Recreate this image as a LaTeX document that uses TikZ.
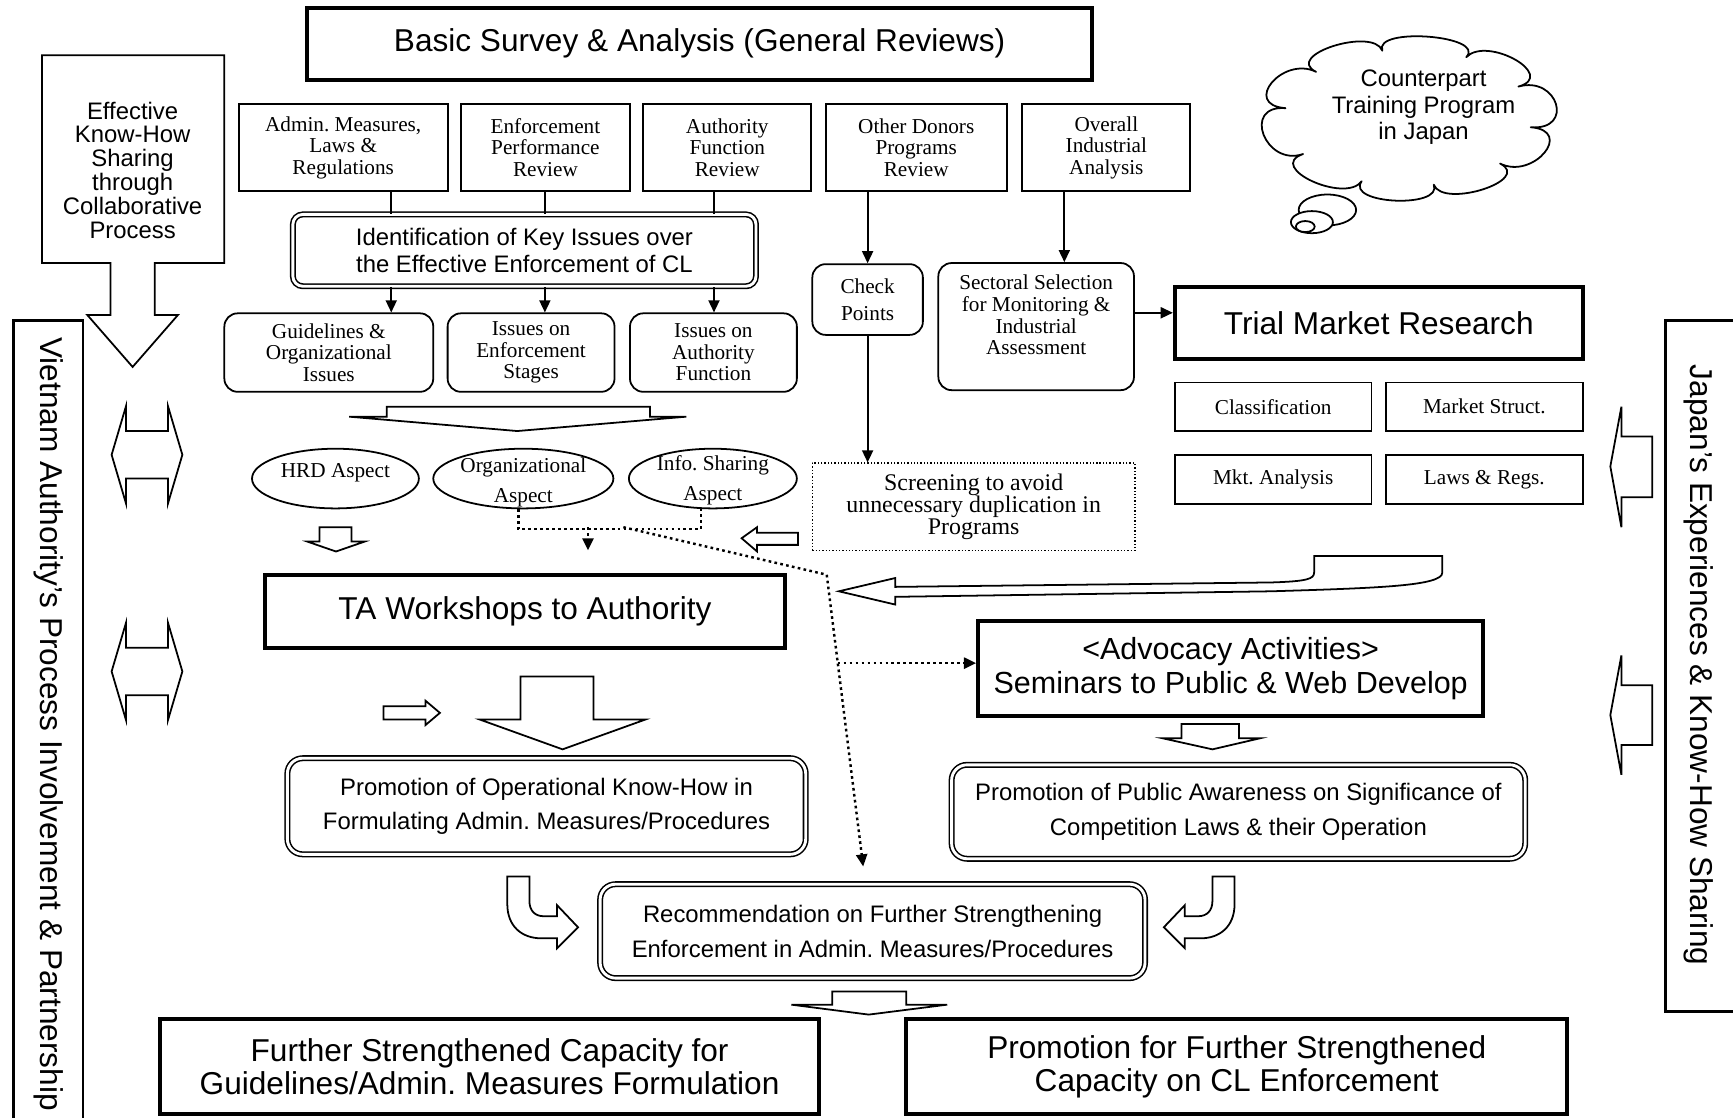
\documentclass[tikz,border=0pt]{standalone}
\usepackage{fontspec}
\setmainfont{Liberation Serif}
\setsansfont{Liberation Sans}
\frenchspacing
\usetikzlibrary{arrows.meta, positioning, shapes.geometric, calc}

\newcommand{\fbig}{\sffamily\fontsize{28.6}{30}\selectfont}
\newcommand{\fadv}{\sffamily\fontsize{27.6}{30}\selectfont}
\newcommand{\fmid}{\sffamily\fontsize{21.6}{24}\selectfont}
\newcommand{\fmidb}{\sffamily\fontsize{21.6}{31.5}\selectfont}
\newcommand{\fser}{\rmfamily\fontsize{19.2}{19.5}\selectfont}

% down-pointing block arrow: shaft l/r, top, wing l/r, wing y, tip x/y
\newcommand{\blkdown}[8]{%
  \draw[blk] (#1,#3) -- (#2,#3) -- (#2,#6) -- (#5,#6) -- (#7,#8) -- (#4,#6) -- (#1,#6) -- cycle;}
% left-pointing block arrow: tip x/y, head back, head top/bottom, shaft end, shaft top/bottom
\newcommand{\blkleft}[8]{%
  \draw[blk] (#1,#2) -- (#3,#4) -- (#3,#7) -- (#6,#7) -- (#6,#8) -- (#3,#8) -- (#3,#5) -- cycle;}

\begin{document}
\begin{tikzpicture}[x=1pt, y=-1pt,
  thinbox/.style={draw, line width=1.6pt, inner sep=0pt, align=center, font=\fser},
  heavybox/.style={draw, line width=3.6pt, inner sep=0pt, align=center, font=\fbig},
  roundbox/.style={thinbox, rounded corners=12pt},
  dblbox/.style={draw, double, double distance=2.6pt, line width=1.4pt, rounded corners=14pt,
                 inner sep=0pt, align=center, font=\fmidb},
  dotbox/.style={thinbox, line width=1.2pt, dash pattern=on 1.2pt off 1.8pt},
  aspect/.style={draw, ellipse, line width=1.6pt, inner sep=0pt},
  blk/.style={draw, fill=white, line width=1.6pt, line join=miter},
  link/.style={line width=1.6pt},
  linkhead/.style={-{Triangle[length=11pt, width=10pt]}},
  dotlink/.style={line width=2.2pt, dash pattern=on 2.4pt off 3pt}]

\useasboundingbox (0,0) rectangle (1568,1011);
\clip (0,0) rectangle (1568,1011);

% side bands
\node [draw, line width=2.4pt, minimum width=63pt, minimum height=780pt] (vietbox) at (43.5,680) {};
\node [rotate=-90, anchor=west, inner sep=0pt, font=\fbig] (viettxt) at (44,305)
  {Vietnam Authority’s Process Involvement \& Partnership};
\node [draw, line width=2.4pt, minimum width=113pt, minimum height=625pt] (japanbox) at (1563.5,602.5) {};
\node [rotate=-90, anchor=west, inner sep=0pt, font=\fbig] (japantxt) at (1537,330)
  {Japan’s Experiences \& Know-How Sharing};

% collaborative process arrow
\draw [blk] (38,50) -- (203,50) -- (203,238) -- (140,238) -- (140,285) -- (161,285)
  -- (120,332) -- (79,285) -- (100,285) -- (100,238) -- (38,238) -- cycle;
\node [align=center, font=\sffamily\fontsize{21.6}{21.6}\selectfont] (effective) at (120,154)
  {Effective\\Know-How\\Sharing\\through\\Collaborative\\Process};

\foreach \yc in {411.5,607.5}
  \draw [blk] (114,\yc-21.5) -- (114,\yc-44) -- (101,\yc) -- (114,\yc+44) -- (114,\yc+21.5)
    -- (152,\yc+21.5) -- (152,\yc+44) -- (165,\yc) -- (152,\yc-44) -- (152,\yc-21.5) -- cycle;

% general reviews
\node [heavybox, minimum width=710pt, minimum height=65pt] (survey) at (633,39.5)
  {Basic Survey \& Analysis (General Reviews)};

\node [thinbox, minimum width=189pt, minimum height=79pt] (admin)    at (310.5,133.5) {Admin. Measures,\\Laws \&\\Regulations};
\node [thinbox, minimum width=153pt, minimum height=79pt] (enfrev)   at (493.5,133.5) {Enforcement\\Performance\\Review};
\node [thinbox, minimum width=152pt, minimum height=79pt] (authrev)  at (658,133.5)   {Authority\\Function\\Review};
\node [thinbox, minimum width=164pt, minimum height=79pt] (donors)   at (829,133.5)   {Other Donors\\Programs\\Review};
\node [thinbox, minimum width=152pt, minimum height=79pt] (industry) at (1001,133.5)  {Overall\\Industrial\\Analysis};

\node [dblbox, font=\fmid, rounded corners=9pt, minimum width=419pt, minimum height=65pt] (keyissues)
  at (474.5,226.5) {Identification of Key Issues over\\the Effective Enforcement of CL};

\node [roundbox, minimum width=189pt, minimum height=71pt] (guide)  at (297.5,319) {Guidelines \&\\Organizational\\Issues};
\node [roundbox, minimum width=151pt, minimum height=71pt] (stages) at (480.5,319) {Issues on\\Enforcement\\Stages};
\node [roundbox, minimum width=151pt, minimum height=71pt] (authfn) at (645.5,319) {Issues on\\Authority\\Function};

\coordinate (colA) at (354,0);
\coordinate (colB) at (493,0);
\coordinate (colC) at (646,0);
\coordinate (colD) at (963,0);
\coordinate (rowT) at (0,283);

\draw [link] (admin.south -| colA)   -- (keyissues.north -| colA);
\draw [link] (enfrev.south -| colB)  -- (keyissues.north -| colB);
\draw [link] (authrev.south -| colC) -- (keyissues.north -| colC);
\draw [link, linkhead] (keyissues.south -| colA) -- (guide.north -| colA);
\draw [link, linkhead] (keyissues.south -| colB) -- (stages.north -| colB);
\draw [link, linkhead] (keyissues.south -| colC) -- (authfn.north -| colC);

\blkdown{350}{588}{368}{316}{621}{377}{468}{390}

% aspects
\node [aspect, minimum width=151pt, minimum height=54pt] (hrd)     at (303.5,433) {};
\node [aspect, minimum width=163pt, minimum height=54pt] (orgasp)  at (473.5,433) {};
\node [aspect, minimum width=152pt, minimum height=54pt] (infoasp) at (645,433)   {};
\node [font=\fser] (hrdtxt) at ([yshift=5pt]hrd.center) {HRD Aspect};
\node [align=center, font=\rmfamily\fontsize{19.2}{27}\selectfont] (orgtxt)  at ([yshift=-3.5pt]orgasp.center)  {Organizational\\Aspect};
\node [align=center, font=\rmfamily\fontsize{19.2}{27}\selectfont] (infotxt) at ([yshift=-1.5pt]infoasp.center) {Info. Sharing\\Aspect};

\blkdown{289}{318}{477}{278}{330}{490}{304}{499}
\blkleft{671}{487}{685}{477}{499}{722}{482}{493}

% donors and industry
\node [roundbox, minimum width=100pt, minimum height=64pt, font=\rmfamily\fontsize{19.2}{24}\selectfont]
  (checkpts) at (785,271) {Check\\Points};
\node [roundbox, minimum width=177pt, minimum height=115pt] (sectoral) at (937.5,295.5) {};
\node [align=center, font=\fser] (sectxt) at ([yshift=10.5pt]sectoral.center)
  {Sectoral Selection\\for Monitoring \&\\Industrial\\Assessment};
\node [dotbox, minimum width=292pt, minimum height=79pt, font=\rmfamily\fontsize{21.6}{20}\selectfont]
  (screening) at (881,458.5) {Screening to avoid\\unnecessary duplication in\\Programs};

\draw [link, linkhead] (donors.south -| checkpts) -- (checkpts.north);
\draw [link, linkhead] (checkpts.south) -- (checkpts.south |- screening.north);
\draw [link, linkhead] (industry.south -| colD) -- (sectoral.north -| colD);

\node [heavybox, minimum width=369pt, minimum height=65pt] (trial) at (1247.5,292.5) {Trial Market Research};
\draw [link, linkhead] (sectoral.east |- rowT) -- (trial.west |- rowT);

\foreach \name/\x/\y/\txt in {classif/1152/368/Classification, mstruct/1343/368/Market Struct.,
                              mktan/1152/434/Mkt. Analysis, lawsregs/1343/434/Laws \& Regs.}
  \node [thinbox, minimum width=178pt, minimum height=44pt] (\name) at (\x,\y) {\txt};

% training in Japan
\coordinate (cloudc) at (1274,106.5);
\foreach \a [count=\i] in {8,42,78,112,148,188,222,258,298,333}
  \coordinate (cl\i) at ($(cloudc)+(\a:112 and 62)$);
\draw [line width=1.6pt, fill=white, line join=round] (cl1)
  \foreach \j [remember=\j as \i (initially 1)] in {2,3,4,5,6,7,8,9,10,1}
    { .. controls ($(cl\i)!-0.36!(cloudc)$) and ($(cl\j)!-0.36!(cloudc)$) .. (cl\j) } -- cycle;
\node [align=center, font=\fmid] (cloudtxt) at (1288,97) {Counterpart\\Training Program\\in Japan};
\draw [blk] (1201,190) ellipse [x radius=26pt, y radius=14pt];
\draw [blk] (1187,201) ellipse [x radius=19pt, y radius=10pt];
\draw [blk] (1181,205) ellipse [x radius=8.5pt, y radius=5pt];

\blkleft{1457}{422}{1467}{368}{477}{1495}{395}{450}
\blkleft{1457}{647}{1467}{593}{701}{1495}{620}{674}

% workshops and advocacy
\node [heavybox, minimum width=470pt, minimum height=66pt] (ta) at (475,553) {TA Workshops to Authority};
\node [heavybox, font=\fadv, minimum width=457pt, minimum height=86pt] (advocacy) at (1113.5,605)
  {<Advocacy Activities>\\Seminars to Public \& Web Develop};

\draw [blk] (759,535) -- (810,523) -- (810,531) -- (1150,527)
  .. controls (1182,526) and (1189,524) .. (1189,518) -- (1189,503) -- (1305,503) -- (1305,518)
  .. controls (1305,530) and (1250,532) .. (1150,535) -- (810,540) -- (810,547) -- cycle;

\coordinate (dotmid)   at (532,477);
\coordinate (dotend)   at (532,498);
\coordinate (dotsplit) at (564,477);
\coordinate (dotbend)  at (748,520);
\coordinate (dotside)  at (758,600);
\coordinate (dottip)   at (781,784);
\draw [dotlink] ([xshift=-4.5pt]orgasp.south) -- ++(0,18) -| ([xshift=-11pt]infoasp.south);
\draw [dotlink, linkhead] (dotmid) -- (dotend);
\draw [dotlink, linkhead] (dotsplit) -- (dotbend) -- (dottip);
\draw [dotlink, linkhead] (dotside) -- (advocacy.west |- dotside);

\draw [blk] (347,639) -- (385,639) -- (385,634) -- (398,645) -- (385,656) -- (385,651) -- (347,651) -- cycle;
\blkdown{471}{537}{612}{434}{584}{651}{509}{678}
\blkdown{1069}{1121}{655}{1052}{1140}{668}{1097}{678}

% promotion and recommendation
\node [dblbox, minimum width=469pt, minimum height=87pt] (promop) at (494.5,729.5)
  {Promotion of Operational Know-How in\\Formulating Admin. Measures/Procedures};
\node [dblbox, minimum width=519pt, minimum height=85pt] (promaw) at (1120.5,734.5)
  {Promotion of Public Awareness on Significance of\\Competition Laws \& their Operation};
\node [dblbox, minimum width=493pt, minimum height=85pt] (recom) at (789.5,842.5)
  {Recommendation on Further Strengthening\\Enforcement in Admin. Measures/Procedures};

\draw [blk] (459,793) -- (479,793) -- (479,815) .. controls (479,824) and (484,829) .. (492,829)
  -- (504,829) -- (504,819) -- (523,839) -- (504,858) -- (504,849) -- (490,849)
  .. controls (472,849) and (459,838) .. (459,818) -- cycle;
\draw [blk] (1117,793) -- (1097,793) -- (1097,815) .. controls (1097,824) and (1092,829) .. (1084,829)
  -- (1072,829) -- (1072,819) -- (1053,839) -- (1072,858) -- (1072,849) -- (1086,849)
  .. controls (1104,849) and (1117,838) .. (1117,818) -- cycle;

\blkdown{753}{820}{897}{716}{857}{909}{786}{918}

% outcomes
\node [heavybox, minimum width=596pt, minimum height=86pt] (capleft) at (443,965)
  {Further Strengthened Capacity for\\Guidelines/Admin. Measures Formulation};
\node [heavybox, minimum width=598pt, minimum height=86pt] (capright) at (1119,965)
  {Promotion for Further Strengthened\\Capacity on CL Enforcement};

\end{tikzpicture}
\end{document}
